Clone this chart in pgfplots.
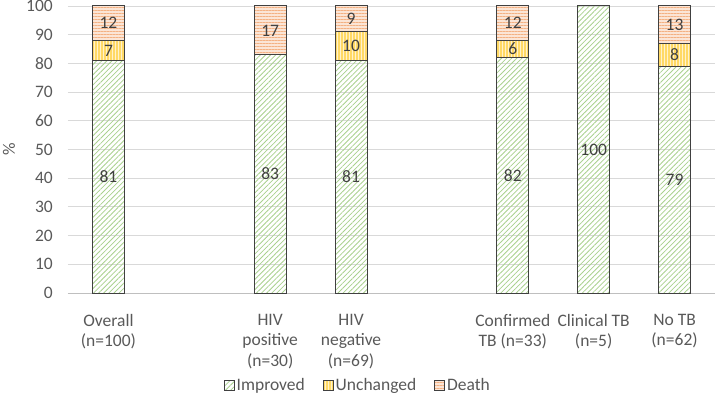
\documentclass[border=0pt]{standalone}
\usepackage{fontspec}
\setmainfont{Carlito}
\usepackage{pgfplots}
\pgfplotsset{compat=1.18}
\usetikzlibrary{patterns.meta}
\definecolor{txt}{HTML}{595959}
\definecolor{lbl}{HTML}{404040}
\definecolor{grn}{HTML}{A9D18E}
\definecolor{yel}{HTML}{FFD966}
\definecolor{yelbg}{HTML}{FFF2CC}
\definecolor{pch}{HTML}{F4B183}
\definecolor{pchbg}{HTML}{FBE5D6}
\definecolor{gridc}{HTML}{D9D9D9}
\definecolor{axc}{HTML}{BFBFBF}
\pgfplotsset{common/.style={
  scale only axis, width=647pt, height=287pt,
  at={(0pt,0pt)}, anchor=south west,
  xmin=-0.5, xmax=7.5, ymin=0, ymax=100}}
\begin{document}
\begin{tikzpicture}
\path[use as bounding box] (-68pt,-114pt) rectangle (648pt,293pt);
\begin{axis}[
  common,
  ybar stacked, bar width=32pt,
  xtick={0,2,3,5,6,7},
  xticklabels={{Overall\\(n=100)},{HIV\\positive\\(n=30)},{HIV\\negative\\(n=69)},{Confirmed\\TB (n=33)},{Clinical TB\\(n=5)},{No TB\\(n=62)}},
  ytick={0,10,...,100},
  ymajorgrids, grid style={draw=gridc, line width=0.9pt},
  axis x line*=bottom, axis y line*=left,
  x axis line style={draw=axc, line width=0.9pt, -},
  y axis line style={draw=none},
  tick style={draw=none},
  /pgf/number format/assume math mode=true,
  tick label style={font=\fontsize{17.5}{20.5}\selectfont, text=txt},
  xticklabel style={align=center, inner sep=0pt, yshift=-21pt},
  yticklabel style={inner sep=0pt, xshift=-15pt},
  ylabel={\%},
  every axis y label/.style={at={(axis description cs:0,0.5)}, xshift=-59pt, rotate=90, anchor=center, font=\fontsize{17.5}{20}\selectfont, text=txt},
  legend style={at={(0.448,-0.322)}, anchor=center, draw=none, legend columns=3, font=\fontsize{17.5}{20}\selectfont, text=txt, /tikz/every even column/.append style={column sep=16pt}},
  legend image code/.code={\draw[#1, line width=0.8pt] (0pt,-5pt) rectangle (10pt,5pt);},
]
\addplot[draw=lbl, line width=1pt, pattern={Lines[angle=45,distance=3.6pt,line width=0.8pt]}, pattern color=grn]
  coordinates {(0,81) (2,83) (3,81) (5,82) (6,100) (7,79)};
\addplot[draw=lbl, line width=1pt, preaction={fill=yelbg}, pattern={Lines[angle=90,distance=3pt,line width=1.2pt]}, pattern color=yel]
  coordinates {(0,7) (2,0) (3,10) (5,6) (6,0) (7,8)};
\addplot[draw=lbl, line width=1pt, preaction={fill=pchbg}, pattern={Lines[angle=0,distance=3pt,line width=1pt]}, pattern color=pch]
  coordinates {(0,12) (2,17) (3,9) (5,12) (6,0) (7,13)};
\legend{Improved,Unchanged,Death}
\end{axis}
\begin{axis}[common, hide axis,
  point meta=explicit symbolic, nodes near coords,
  every node near coord/.append style={anchor=center, font=\fontsize{17.5}{20}\selectfont, text=lbl}]
\addplot[only marks, mark=none] coordinates {
  (0,40.5)[81] (0,84.5)[7] (0,94)[12]
  (2,41.5)[83] (2,91.5)[17]
  (3,40.5)[81] (3,86)[10] (3,95.5)[9]
  (5,41)[82] (5,85)[6] (5,94)[12]
  (6,50)[100]
  (7,39.5)[79] (7,83)[8] (7,93.5)[13]};
\end{axis}
\end{tikzpicture}
\end{document}
